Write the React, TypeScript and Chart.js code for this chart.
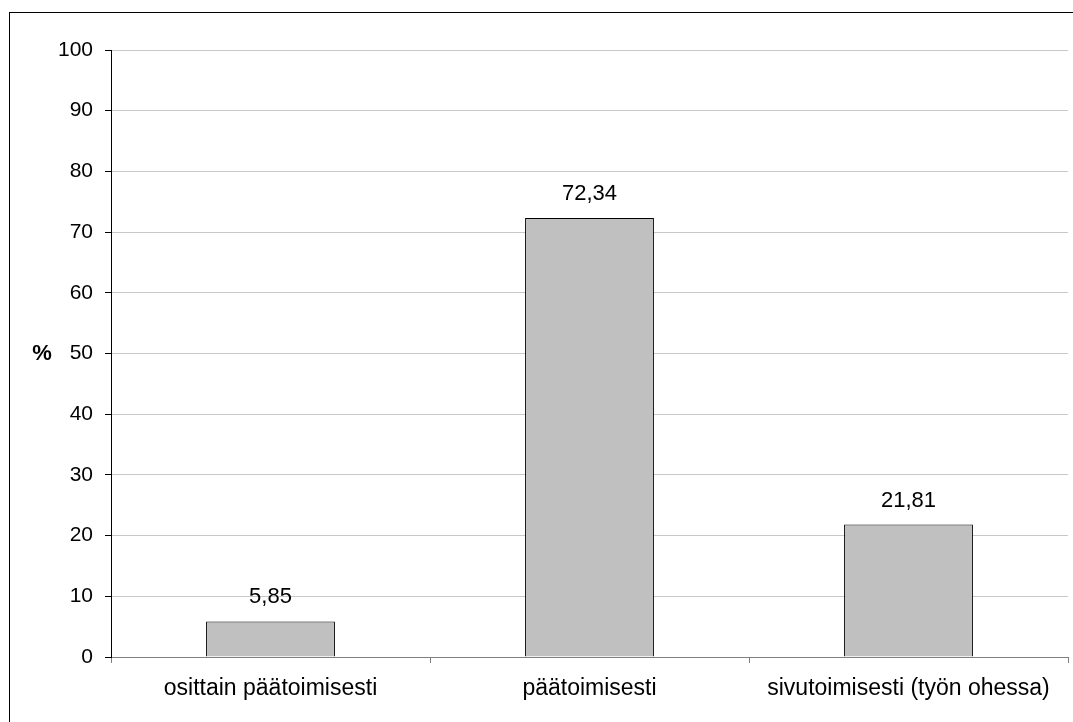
import React, { useEffect, useRef } from "react";
import { Chart, registerables } from "chart.js";

Chart.register(...registerables);

const categories = ["osittain päätoimisesti", "päätoimisesti", "sivutoimisesti (työn ohessa)"];
const values = [5.85, 72.34, 21.81];
const valueLabels = ["5,85", "72,34", "21,81"];
const yTicks = [0, 10, 20, 30, 40, 50, 60, 70, 80, 90, 100];
const yAxisTitle = "%";

const FONT = "'Liberation Sans', Arial, sans-serif";

const decorPlugin = {
  id: "decor",
  beforeDraw(chart: any) {
    const ctx = chart.ctx;
    ctx.save();
    ctx.fillStyle = "#ffffff";
    ctx.fillRect(0, 0, chart.width, chart.height);
    ctx.strokeStyle = "#000000";
    ctx.lineWidth = 1;
    ctx.strokeRect(9.5, 12.5, 3000, 3000);
    ctx.restore();
  },
  afterDraw(chart: any) {
    const ctx = chart.ctx;
    const meta = chart.getDatasetMeta(0);
    const yScale = chart.scales.y;
    ctx.save();
    ctx.fillStyle = "#000000";
    ctx.font = `22px ${FONT}`;
    ctx.textAlign = "center";
    ctx.textBaseline = "alphabetic";
    meta.data.forEach((bar: any, i: number) => {
      ctx.fillText(valueLabels[i], bar.x, bar.y - 18);
    });
    ctx.font = `bold 22px ${FONT}`;
    ctx.textBaseline = "middle";
    ctx.fillText(yAxisTitle, 42, yScale.getPixelForValue(50));
    ctx.restore();
  },
};

export default function App() {
  const ref = useRef<HTMLCanvasElement>(null);
  useEffect(() => {
    if (!ref.current) return;
    const chart = new Chart(ref.current, {
      type: "bar",
      data: {
        labels: categories,
        datasets: [
          {
            data: values,
            backgroundColor: "#c0c0c0",
            borderColor: "#000000",
            borderWidth: 1,
            categoryPercentage: 1,
            barPercentage: 0.404,
          },
        ],
      },
      options: {
        responsive: false,
        animation: false,
        devicePixelRatio: 1,
        layout: { padding: { top: 50, right: 5, left: 0, bottom: 0 } },
        plugins: { legend: { display: false }, tooltip: { enabled: false } },
        scales: {
          x: {
            afterFit(scale: any) {
              scale.height = 65;
            },
            grid: {
              display: true,
              drawOnChartArea: false,
              offset: true,
              tickLength: 6,
              color: "#808080",
            },
            border: { color: "#808080", width: 1 },
            ticks: {
              color: "#000000",
              font: { family: FONT, size: 23 },
              padding: 12,
              maxRotation: 0,
              autoSkip: false,
            },
          },
          y: {
            min: 0,
            max: 100,
            afterFit(scale: any) {
              scale.width = 111;
            },
            afterBuildTicks(scale: any) {
              scale.ticks = yTicks.map((v) => ({ value: v }));
            },
            grid: {
              color: (c: any) => (c.tick && c.tick.value === 0 ? "#808080" : "#c8c8c8"),
              tickColor: "#000000",
              tickLength: 6,
            },
            border: { color: "#000000", width: 1 },
            ticks: {
              color: "#000000",
              font: { family: FONT, size: 21 },
              padding: 12,
              stepSize: 10,
            },
          },
        },
      },
      plugins: [decorPlugin],
    });
    return () => chart.destroy();
  }, []);
  return (
    <div style={{ position: "absolute", left: 0, top: 0, width: 1073, height: 722 }}>
      <canvas ref={ref} width={1073} height={722} style={{ display: "block" }} />
    </div>
  );
}
